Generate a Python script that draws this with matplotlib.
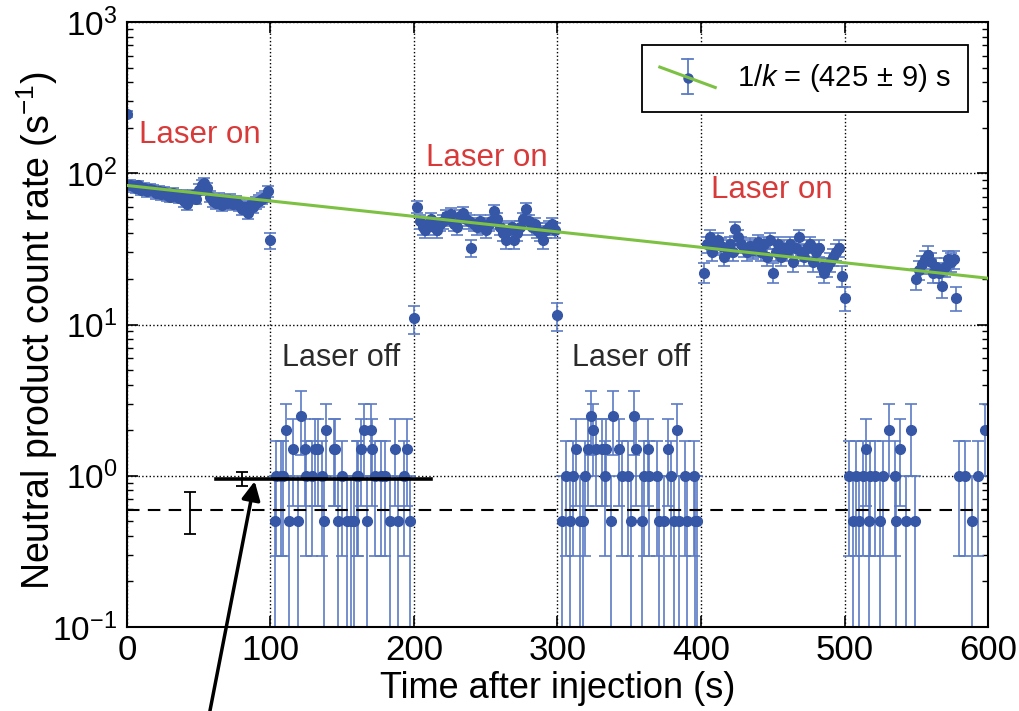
import numpy as np
import matplotlib
matplotlib.use("Agg")
import matplotlib.pyplot as plt
from matplotlib.lines import Line2D
from matplotlib.legend_handler import HandlerBase

plt.rcParams['font.family'] = ['Liberation Sans', 'DejaVu Sans']
plt.rcParams['mathtext.fontset'] = 'custom'
plt.rcParams['mathtext.rm'] = 'Liberation Sans'
plt.rcParams['mathtext.it'] = 'Liberation Sans:italic'

# count rates in 2 s bins, laser on
on_t = [0, 2, 4, 6, 8, 10, 12, 14, 16, 18, 20, 22, 24, 26, 28, 30, 32, 34, 36, 38,
        40, 42, 44, 46, 48, 50, 52, 54, 56, 58, 60, 62, 64, 66, 68, 70, 72, 74, 76,
        78, 80, 82, 84, 86, 88, 90, 92, 94, 96, 98, 100,
        200, 202, 204, 206, 208, 210, 212, 214, 216, 218, 220, 222, 224, 226, 228,
        230, 232, 234, 236, 238, 240, 242, 244, 246, 248, 250, 252, 254, 256, 258,
        260, 262, 264, 266, 268, 270, 272, 274, 276, 278, 280, 282, 284, 286, 288,
        290, 292, 294, 296, 298, 300,
        402, 404, 406, 408, 410, 412, 414, 416, 418, 420, 422, 424, 426, 428, 430,
        432, 434, 436, 438, 440, 442, 444, 446, 448, 450, 452, 454, 456, 458, 460,
        462, 464, 466, 468, 470, 472, 474, 476, 478, 480, 482, 484, 486, 488, 490,
        492, 494, 496, 498, 500,
        550, 552, 554, 556, 558, 560, 562, 564, 566, 568, 570, 572, 574, 576, 578]
on_rate = [245, 84, 82, 80, 83, 78, 80, 76, 79, 77, 74, 76, 73, 75, 72, 70, 74, 71, 69, 72,
           66, 63, 70, 72, 68, 78, 84, 86, 80, 70, 66, 64, 68, 62, 66, 64, 67, 63, 65,
           62, 58, 60, 55, 62, 60, 64, 66, 68, 70, 76, 36,
           11, 60, 48, 44, 42, 46, 50, 44, 42, 46, 48, 52, 50, 54, 46,
           44, 52, 55, 50, 48, 32, 46, 44, 48, 45, 42, 46, 48, 56, 50,
           44, 40, 36, 42, 44, 36, 40, 44, 50, 58, 48, 44, 46, 42, 40,
           36, 42, 44, 46, 42, 11.5,
           22, 34, 38, 30, 34, 36, 33, 28, 32, 34, 30, 43, 38, 34, 32,
           30, 33, 31, 32, 35, 30, 34, 28, 36, 22, 30, 34, 28, 32, 30,
           34, 26, 32, 38, 30, 28, 32, 34, 26, 30, 32, 24, 22, 24, 26,
           28, 30, 32, 21, 15,
           20, 23, 25, 27, 29, 26, 22, 24, 22, 18, 24, 27, 26, 27, 15]

# laser off (empty bins not shown on log axis)
off_t = [103, 104, 107, 109, 111, 113, 116, 119, 121, 124, 125, 129, 131, 133, 136,
         137, 139, 144, 145, 147, 150, 153, 156, 158, 160, 161, 163, 165, 167, 170,
         171, 173, 177, 180, 183, 187, 189, 193, 195, 197,
         303, 306, 309, 311, 313, 316, 318, 319, 321, 323, 325, 327, 331, 333, 334,
         337, 339, 343, 345, 349, 351, 353, 355, 359, 360, 363, 364, 369, 371, 374,
         377, 379, 381, 383, 385, 389, 390, 395, 396, 397,
         503, 506, 508, 510, 513, 515, 517, 518, 521, 525, 527, 531, 535, 536, 539,
         543, 546, 549,
         580, 584, 589, 593, 598]
off_rate = [0.5, 1.0, 1.0, 1.0, 2.0, 0.5, 1.5, 0.5, 2.5, 1.5, 1.0, 1.0, 1.5, 1.5, 1.0,
            0.5, 2.0, 1.5, 1.5, 0.5, 1.0, 0.5, 0.5, 0.5, 1.0, 1.0, 1.5, 2.0, 0.5, 2.0,
            1.5, 1.0, 1.0, 1.0, 0.5, 1.5, 0.5, 1.0, 1.5, 0.5,
            0.5, 1.0, 0.5, 1.0, 1.5, 0.5, 0.5, 1.0, 1.5, 2.5, 2.0, 1.5, 1.5, 1.0, 1.5,
            0.5, 2.5, 1.5, 1.0, 1.0, 0.5, 2.5, 1.5, 0.5, 1.0, 1.5, 1.0, 1.0, 0.5, 0.5,
            1.5, 1.0, 0.5, 2.0, 0.5, 1.0, 0.5, 1.0, 0.5, 0.5,
            1.0, 0.5, 1.0, 0.5, 1.0, 1.5, 0.5, 1.0, 1.0, 0.5, 1.0, 2.0, 1.0, 0.5, 1.5,
            0.5, 2.0, 0.5,
            1.0, 1.0, 0.5, 1.0, 2.0]

bin_width = 2.0
fit_tau = 425.0
fit_a0 = 83.0
fit_t = [0, 600]

# background levels
bg_laser = 0.955
bg_laser_err = 0.105
bg_laser_t = 80
bg_laser_span = [62, 212]
bg_dark = 0.596
bg_dark_err = 0.183
bg_dark_t = 44

blue = '#3656a6'
eblue = '#5b7bc4'
green = '#7cc142'
red = '#d83a3a'


class FitHandler(HandlerBase):
    def create_artists(self, legend, orig_handle, xdescent, ydescent,
                       width, height, fontsize, trans):
        x0 = -xdescent
        x1 = x0 + width
        ym = -ydescent + height / 2
        xc = (x0 + x1) / 2
        h = height
        eb = Line2D([xc, xc], [ym - 0.85 * h, ym + 0.85 * h], color=eblue, lw=1.3, transform=trans)
        cap1 = Line2D([xc - 4, xc + 4], [ym - 0.85 * h] * 2, color=eblue, lw=1.3, transform=trans)
        cap2 = Line2D([xc - 4, xc + 4], [ym + 0.85 * h] * 2, color=eblue, lw=1.3, transform=trans)
        dot = Line2D([xc], [ym - 0.1 * h], marker='o', ms=6.5, color=blue, transform=trans)
        fl = Line2D([x0, x1], [ym + 0.45 * h, ym - 0.55 * h], color=green, lw=2.2, transform=trans)
        return [eb, cap1, cap2, dot, fl]


fig = plt.figure(figsize=(10.19, 7.11), dpi=100)
ax = fig.add_axes([0.1246, 0.1181, 0.845, 0.851])

t_all = np.array(on_t + off_t, dtype=float)
r_all = np.array(on_rate + off_rate, dtype=float)
err = np.sqrt(r_all * bin_width) / bin_width

ax.errorbar(t_all, r_all, yerr=err, fmt='o', ms=7, color=blue, mec=blue,
            ecolor=eblue, elinewidth=1.2, capsize=4.5, capthick=1.2, zorder=2)

fit_tt = np.array(fit_t, dtype=float)
fitline, = ax.plot(fit_tt, fit_a0 * np.exp(-fit_tt / fit_tau), color=green, lw=2.2, zorder=3)

ax.axhline(bg_dark, color='k', ls='--', lw=1.5, dashes=(6, 4), zorder=3)
ax.errorbar([bg_dark_t], [bg_dark], yerr=bg_dark_err, fmt='none', ecolor='k',
            elinewidth=1.3, capsize=4, capthick=1.3, zorder=3)
ax.plot(bg_laser_span, [bg_laser, bg_laser], color='k', lw=2.6, zorder=4)
ax.errorbar([bg_laser_t], [bg_laser], yerr=bg_laser_err, fmt='none', ecolor='k',
            elinewidth=1.3, capsize=4, capthick=1.3, zorder=4)

ax.annotate('', xy=(89, 0.92), xycoords='data', xytext=(0.206, 0.0),
            textcoords='figure fraction', annotation_clip=False,
            arrowprops=dict(arrowstyle='-|>', lw=2.5, color='k', mutation_scale=28,
                            shrinkA=0, shrinkB=0))

ax.text(51, 180, 'Laser on', color=red, fontsize=22.5, ha='center', va='center')
ax.text(251, 126, 'Laser on', color=red, fontsize=22.5, ha='center', va='center')
ax.text(449, 78, 'Laser on', color=red, fontsize=22.5, ha='center', va='center')
ax.text(149, 6.0, 'Laser off', color='#2b2b2b', fontsize=22, ha='center', va='center')
ax.text(351, 6.0, 'Laser off', color='#2b2b2b', fontsize=22, ha='center', va='center')

ax.set_yscale('log')
ax.set_xlim(0, 600)
ax.set_ylim(0.1, 1000)
ax.set_xticks([0, 100, 200, 300, 400, 500, 600])
ax.grid(True, which='major', color='k', ls=':', lw=1.0)
ax.tick_params(which='both', direction='in', top=True, right=True, labelsize=24)
ax.tick_params(which='major', length=8, width=1.2)
ax.tick_params(which='minor', length=4, width=1.0)
ax.tick_params(axis='x', which='major', pad=5, labelsize=25)
ax.tick_params(axis='y', which='major', pad=7)
for s in ax.spines.values():
    s.set_linewidth(1.5)

ax.set_xlabel('Time after injection (s)', fontsize=26, labelpad=3)
ax.set_ylabel(r'Neutral product count rate (s$^{-1}$)', fontsize=27)
ax.yaxis.set_label_coords(-0.078, 0.49)

leg = ax.legend([fitline], [r'1/$k$ = (425$\,\pm\,$9) s'], handler_map={Line2D: FitHandler()},
                loc='upper right', bbox_to_anchor=(0.977, 0.962), borderaxespad=0,
                fontsize=21, fancybox=False, framealpha=1, edgecolor='k',
                handlelength=1.9, handletextpad=0.75, borderpad=0.6)
leg.get_frame().set_linewidth(1.3)

fig.savefig('out.png', dpi=100)
